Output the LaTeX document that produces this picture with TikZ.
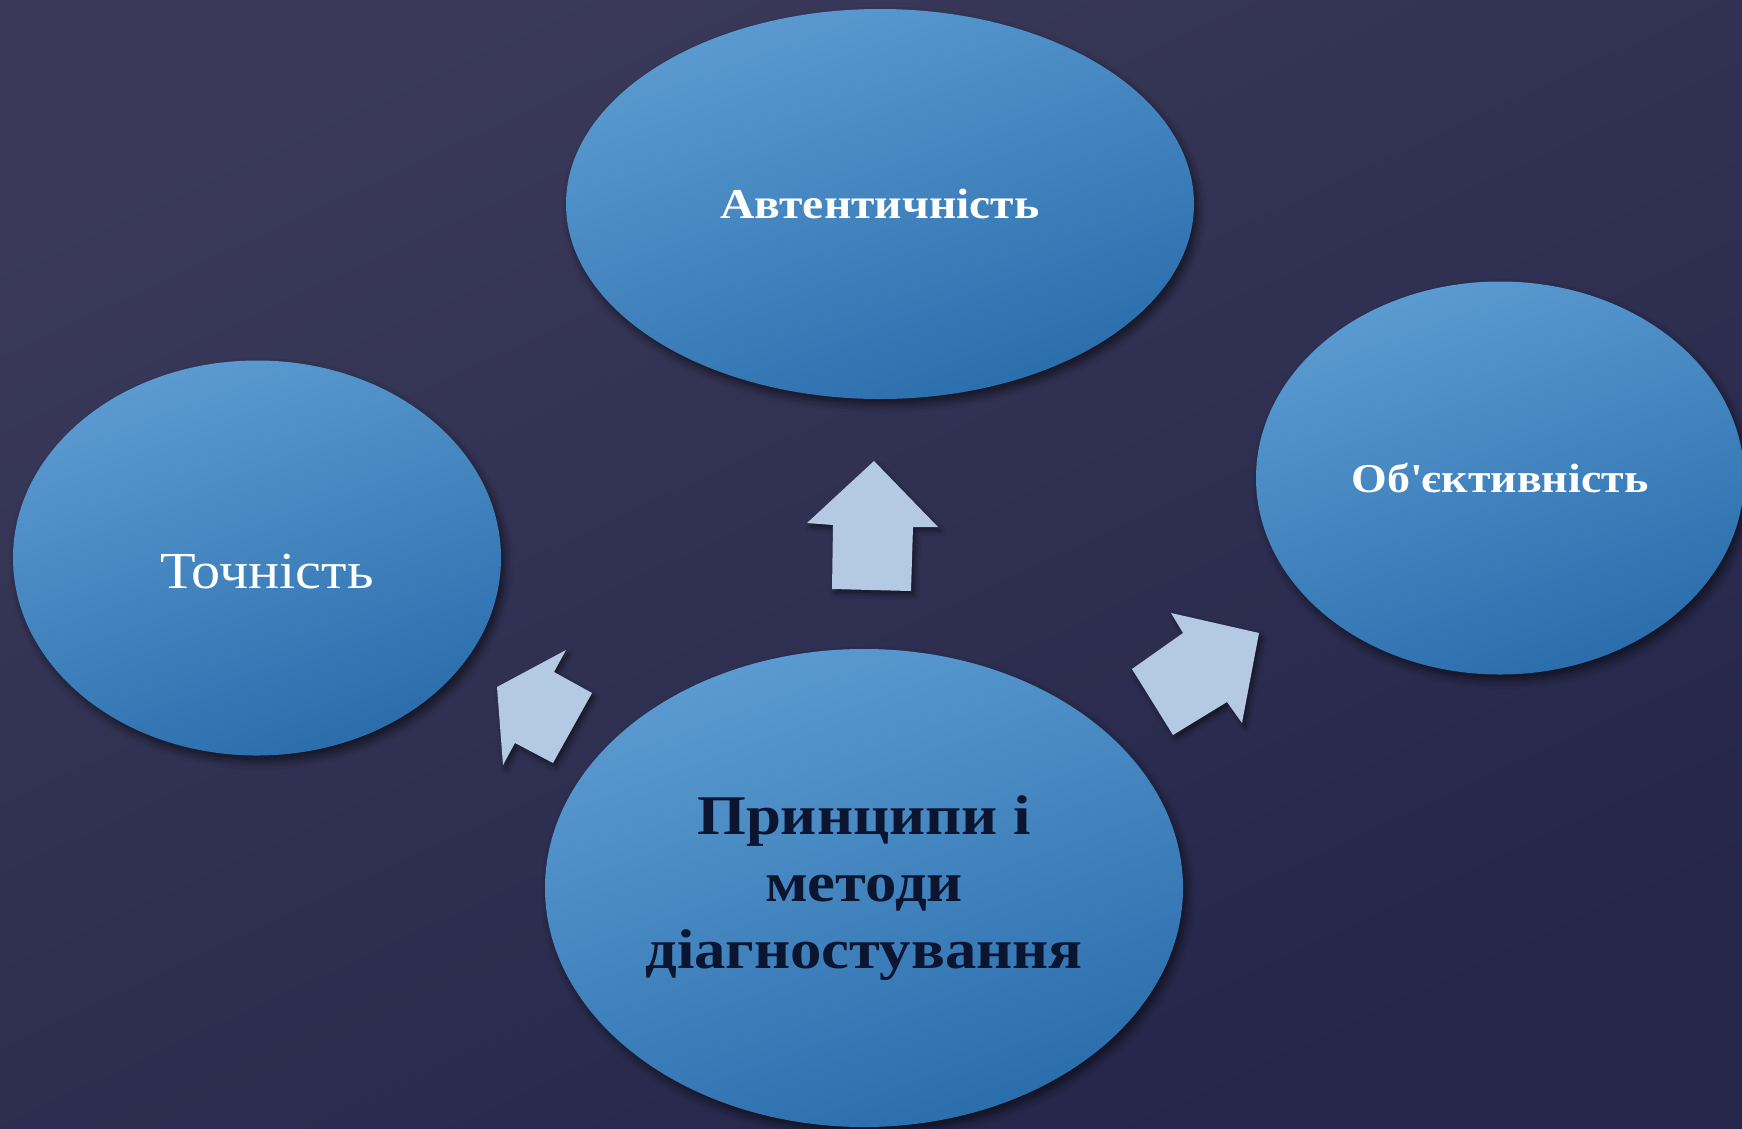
\documentclass[tikz,border=0pt]{standalone}
\usepackage{fontspec}
\setmainfont{Liberation Serif}[FakeStretch=1.12]
\usetikzlibrary{shapes.geometric,shadows.blur}

\definecolor{bgtop}{HTML}{3A3959}
\definecolor{bgbot}{HTML}{24264A}
\definecolor{balltop}{HTML}{5B9BD1}
\definecolor{ballbot}{HTML}{2A6DAC}
\definecolor{arrowblue}{HTML}{B4C9E4}
\definecolor{inkdark}{HTML}{0B1530}

\begin{document}
\begin{tikzpicture}[
        x = 1pt, % one unit = one pixel of the slide
        y = -1pt, % y runs downwards like the slide
        every node/.style = {align=center}
      ]

      \tikzstyle{ball}=[ellipse, inner sep=0pt, top color=balltop, bottom color=ballbot, shading angle=20,
        blur shadow={shadow xshift=4pt, shadow yshift=-6pt, shadow blur radius=8pt, shadow opacity=55}]
      \tikzstyle{bigarrow}=[fill=arrowblue,
        blur shadow={shadow xshift=3pt, shadow yshift=-4pt, shadow blur radius=5pt, shadow opacity=50}]

      \useasboundingbox (0,0) rectangle (1742,1128);
      \clip (0,0) rectangle (1742,1128);
      \shade[top color=bgtop, bottom color=bgbot, shading angle=25] (0,0) rectangle (1742,1128);

      \node[ball, minimum width=628pt, minimum height=390pt, text=white,
        font=\bfseries\fontsize{42.5}{48}\selectfont] (autent) at (880,204) {Автентичність};
      \node[ball, minimum width=488pt, minimum height=395pt, text=white, text height=72pt, text depth=12pt,
        font=\fontsize{52}{60}\selectfont] (tochn) at (257,558) {\hspace*{20pt}Точність};
      \node[ball, minimum width=488pt, minimum height=393pt, text=white,
        font=\bfseries\fontsize{41}{48}\selectfont] (obyekt) at (1500,478) {Об\textquotesingle єктивність};
      \node[ball, minimum width=638pt, minimum height=478pt, text=inkdark,
        font=\bfseries\fontsize{56}{67}\selectfont] (pryntsyp) at (864,888) {Принципи і\\методи\\діагностування};

      % block arrows from the centre outwards
      \fill[bigarrow] (874,461) -- (938,527) -- (913,527) -- (911,591) -- (832,589) -- (833,525) -- (807,523) -- cycle;
      \fill[bigarrow] (497,687) -- (566,650) -- (554,672) -- (592,693) -- (553,763) -- (515,743) -- (503,765) -- cycle;
      \fill[bigarrow] (1259,633) -- (1242,723) -- (1227,702) -- (1173,735) -- (1132,669) -- (1183,633) -- (1171,613) -- cycle;

    \end{tikzpicture}
\end{document}
